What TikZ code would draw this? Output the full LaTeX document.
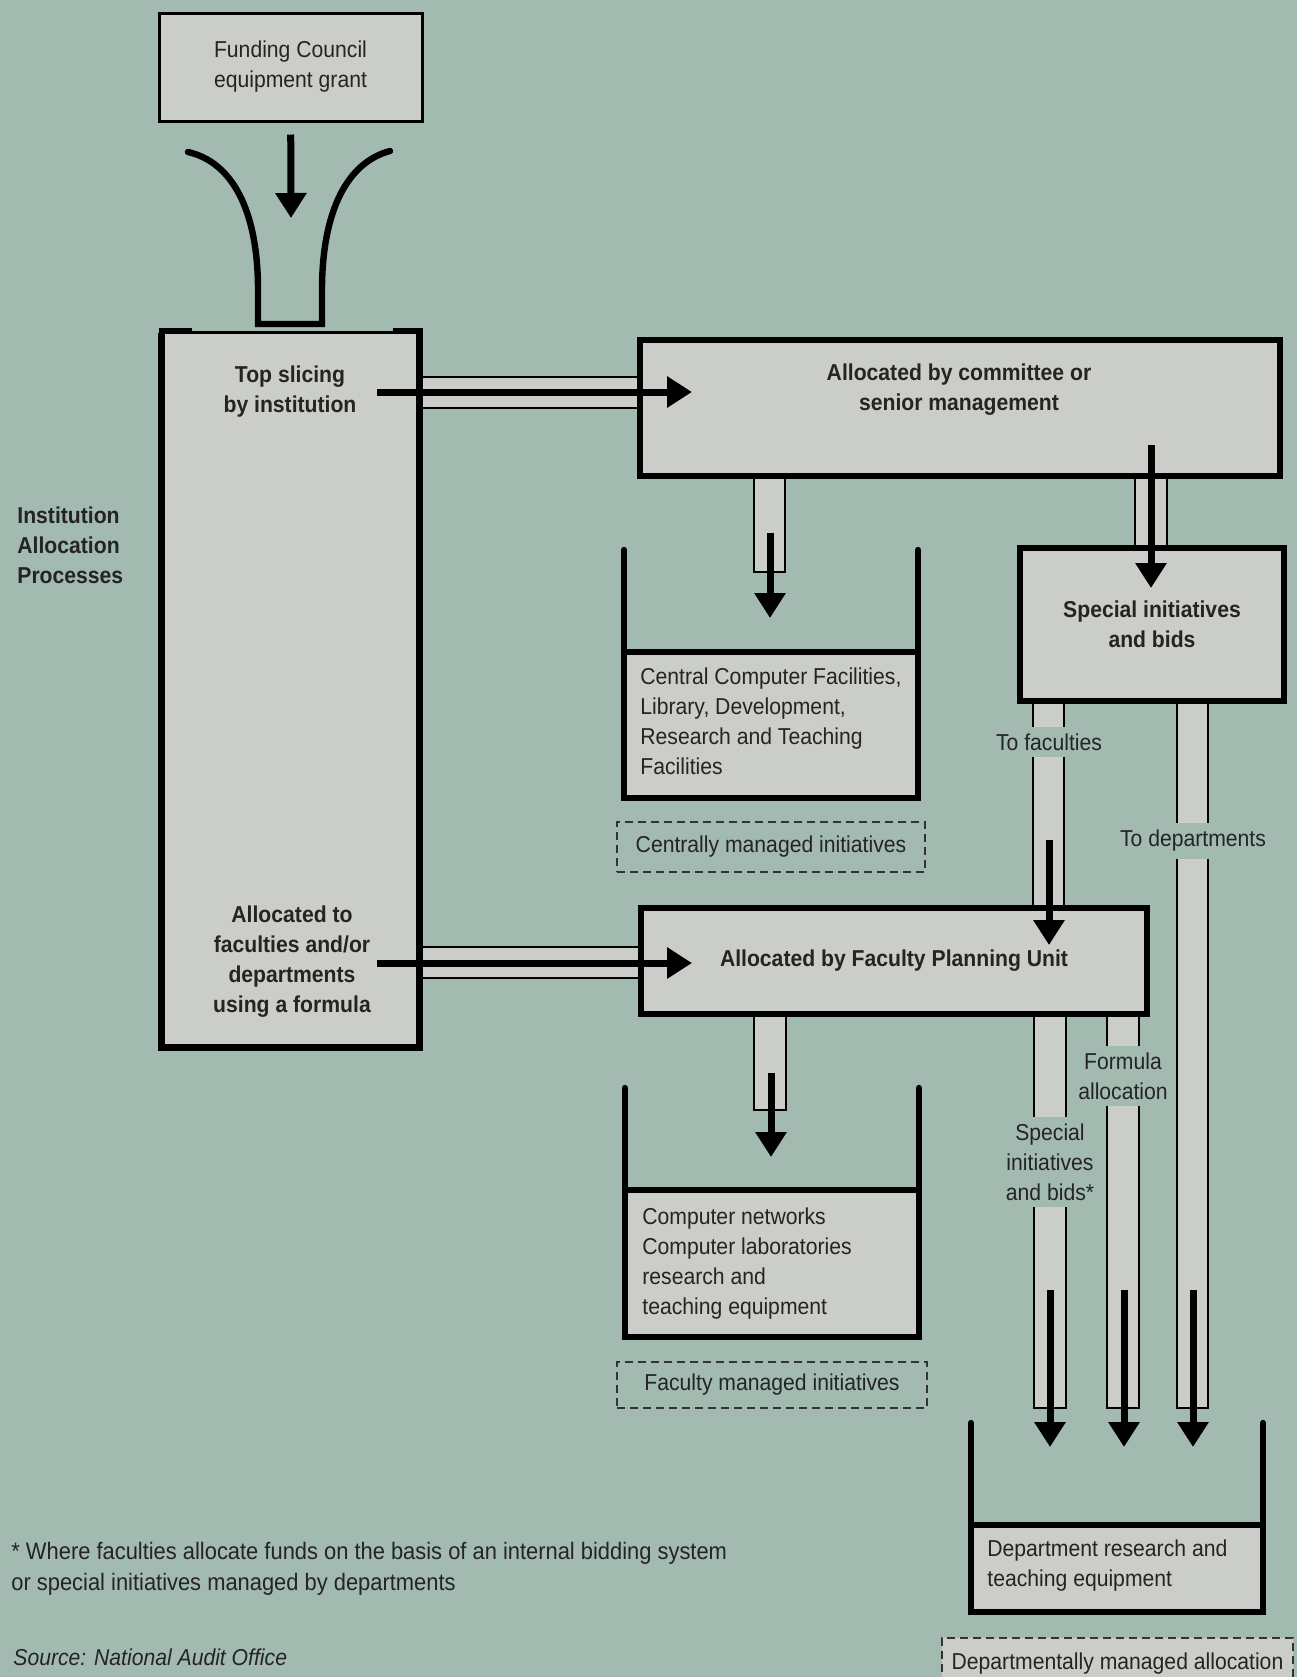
\documentclass[tikz,border=0pt]{standalone}
\usepackage{fontspec}
\setmainfont{Liberation Sans}[FakeStretch=0.92]
\usetikzlibrary{arrows.meta,positioning,calc}

\definecolor{paper}{RGB}{162,186,176}
\definecolor{panel}{RGB}{202,205,200}
\definecolor{ink}{RGB}{36,36,36}

\begin{document}
\begin{tikzpicture}[
    x=0.5pt, y=-0.5pt,
    every node/.style={font=\fontsize{11.5}{15}\selectfont, text=ink},
    box/.style={draw=black, line width=3.3pt, fill=panel, inner sep=0pt, align=center, font=\fontsize{11.5}{15}\selectfont\bfseries},
    heading/.style={font=\fontsize{11.5}{15}\selectfont\bfseries, align=center, inner sep=0pt},
    store/.style={anchor=west, align=left, inner sep=0pt},
    wall/.style={draw=black, line width=3.2pt, line cap=round, line join=miter},
    pipe/.style={draw=black, line width=1.2pt, fill=panel},
    tag/.style={fill=paper, align=center, inner xsep=1pt, inner ysep=3.5pt},
    flow/.style={-{Triangle[width=15pt,length=12.5pt]}, line width=3.5pt, draw=black},
    managed/.style={draw=black!80, dash pattern=on 4pt off 2.5pt, line width=1pt, inner sep=0pt},
]

\fill[paper] (0,0) rectangle (1297,1677);
\useasboundingbox (0,0) rectangle (1297,1677);

% Pipes
\draw[pipe] (419,377) rectangle (640,408);
\draw[pipe] (419,947) rectangle (641,978);
\draw[pipe] (754,476) rectangle (785,572);
\draw[pipe] (1135,476) rectangle (1167,548);
\draw[pipe] (1033,701) rectangle (1064,908);
\draw[pipe] (1177,701) rectangle (1208,1408);
\draw[pipe] (754,1014) rectangle (786,1110);
\draw[pipe] (1034,1014) rectangle (1066,1408);
\draw[pipe] (1107,1014) rectangle (1139,1408);

\node[tag] (tofac) at (1049,742) {To faculties};
\node[tag] (todep) at (1193,841) {To departments};
\node[tag] (formula) at (1123,1076) {Formula\\allocation};
\node[tag] (bids) at (1050,1162) {Special\\initiatives\\and bids*};

% Grant and funnel
\node[draw=black, line width=1.5pt, fill=panel, minimum width=131.5pt, minimum height=54pt, align=center] (grant) at (290.5,67) {Funding Council\\equipment grant};
\draw[wall] (188,152) .. controls (232,162) and (258,210) .. (258,290) -- (258,324) -- (322,324) -- (322,290) .. controls (322,210) and (348,162) .. (390,151);
\coordinate (drop) at (291,218);

% Institution
\node[fill=panel, minimum width=128.5pt, minimum height=357pt, inner sep=0pt] (inst) at (290.5,690) {};
\draw[wall, line cap=butt] (inst.north west) -- (inst.south west) -- (inst.south east) -- (inst.north east);
\draw[black, line width=1.5pt] (inst.north west) -- (inst.north east);
\draw[wall, line cap=butt] (158.5,331) -- (192,331);
\draw[wall, line cap=butt] (393,331) -- (422.5,331);
\node[heading] (topslice) at (290,392) {Top slicing\\by institution};
\node[heading] (toformula) at (292,962) {Allocated to\\faculties and/or\\departments\\using a formula};
\node[heading, align=left, anchor=west] (iap) at (17,545) {Institution\\Allocation\\Processes};

% Allocation units
\node[box, minimum width=320pt, minimum height=68pt] (board) at (960,408) {};
\node[heading] (boardtext) at (959,390) {Allocated by committee or\\senior management};
\node[box, minimum width=132pt, minimum height=76.5pt] (special) at (1152,624.5) {Special initiatives\\and bids};
\node[box, minimum width=253pt, minimum height=53pt] (unit) at (894,961) {Allocated by Faculty Planning Unit};

% Stores
\fill[panel] (624,652) rectangle (918,798);
\draw[wall] (624,550) -- (624,798) -- (918,798) -- (918,550);
\draw[wall, line cap=butt] (624,652) -- (918,652);
\node[store] (central) at (640,721) {Central Computer Facilities,\\Library, Development,\\Research and Teaching\\Facilities};

\fill[panel] (625,1190) rectangle (919,1337);
\draw[wall] (625,1088) -- (625,1337) -- (919,1337) -- (919,1088);
\draw[wall, line cap=butt] (625,1190) -- (919,1190);
\node[store] (faculty) at (642,1264) {Computer networks\\Computer laboratories\\research and\\teaching equipment};

\fill[panel] (971,1525) rectangle (1263,1612);
\draw[wall] (971,1423) -- (971,1612) -- (1263,1612) -- (1263,1423);
\draw[wall, line cap=butt] (971,1525) -- (1263,1525);
\node[store] (dept) at (987,1566) {Department research and\\teaching equipment};

% Managed by
\node[managed, minimum width=154pt, minimum height=25pt] (cmi) at (771,847) {Centrally managed initiatives};
\node[managed, minimum width=155pt, minimum height=23pt] (fmi) at (772,1385) {Faculty managed initiatives};
\node[managed, fill=panel, minimum width=175.5pt, minimum height=26pt] (dma) at (1117.5,1664) {Departmentally managed allocation};

% Notes
\node[anchor=west, align=left, inner sep=0pt, font=\fontsize{11.9}{15.5}\selectfont] (note) at (11,1569) {* Where faculties allocate funds on the basis of an internal bidding system\\or special initiatives managed by departments};
\node[anchor=west, inner sep=0pt, font=\fontsize{11.5}{15}\selectfont\itshape] (source) at (13,1657) {Source: National Audit Office};

% Flows
\coordinate (ts0) at (377,392);   \coordinate (ts1) at (692,392);
\coordinate (af0) at (377,963);   \coordinate (af1) at (692,963);
\coordinate (cc0) at (770,533);   \coordinate (cc1) at (770,618);
\coordinate (sb0) at (1151,445);  \coordinate (sb1) at (1151,588);
\coordinate (tf0) at (1049,840);  \coordinate (tf1) at (1049,945);
\coordinate (fc0) at (771,1073);  \coordinate (fc1) at (771,1157);

\draw[flow, shorten <=6pt] (grant) -- (drop);
\draw[flow] (ts0) -- (ts1);
\draw[flow] (af0) -- (af1);
\draw[flow] (cc0) -- (cc1);
\draw[flow] (sb0) -- (sb1);
\draw[flow] (tf0) -- (tf1);
\draw[flow] (fc0) -- (fc1);
\foreach \x [count=\i] in {1050,1124,1193} {
  \coordinate (dep\i a) at (\x,1290);
  \coordinate (dep\i b) at (\x,1447);
  \draw[flow] (dep\i a) -- (dep\i b);
}

\end{tikzpicture}
\end{document}
